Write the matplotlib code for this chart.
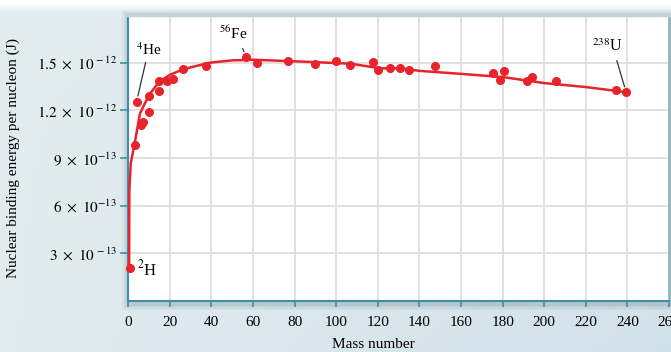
import numpy as np
import matplotlib
matplotlib.use('Agg')
import matplotlib.pyplot as plt
from matplotlib.patches import Rectangle

# measured nuclides (mass number, binding energy per nucleon in J)
mass = [1, 3, 4, 6, 7, 10, 10, 15, 15, 18.5, 21.4, 26.5, 37.4, 56.6, 62.1, 77.0,
        89.8, 100.0, 106.7, 117.6, 120.3, 126.0, 130.5, 135.2, 147.3, 175.2,
        178.9, 180.5, 191.7, 194.1, 205.7, 234.7, 239.4]
energy = [0.205, 0.98, 1.256, 1.11, 1.13, 1.29, 1.19, 1.382, 1.325, 1.382, 1.397,
          1.46, 1.477, 1.536, 1.498, 1.513, 1.494, 1.508, 1.487, 1.506, 1.456,
          1.47, 1.467, 1.456, 1.477, 1.435, 1.393, 1.445, 1.382, 1.41, 1.382,
          1.33, 1.315]
energy = [e * 1e-12 for e in energy]

# smooth trend curve
curve_mass = [0.4, 0.5, 1.2, 2.9, 5.6, 10, 15, 20, 26.5, 39, 50, 60, 82, 107,
              121, 131, 140, 160, 180, 200, 220, 239.4]
curve_energy = [0.205, 0.70, 0.87, 0.98, 1.18, 1.298, 1.382, 1.424, 1.46, 1.50,
                1.515, 1.519, 1.508, 1.494, 1.465, 1.465, 1.449, 1.43, 1.41,
                1.372, 1.347, 1.315]
curve_energy = [e * 1e-12 for e in curve_energy]

y_ticks = [3e-13, 6e-13, 9e-13, 1.2e-12, 1.5e-12]
y_labels = [r'$3\ \times\ 10^{\,-13}$', r'$9\ \times\ 10^{-13}$'.replace('9', '6'),
            r'$9\ \times\ 10^{-13}$',
            r'$1.2\ \times\ 10^{\,-12}$', r'$1.5\ \times\ 10^{\,-12}$']
x_ticks = list(range(0, 261, 20))

plt.rcParams['font.family'] = ['Liberation Serif', 'DejaVu Serif']
plt.rcParams['mathtext.fontset'] = 'stix'

W, H = 671, 352
fig = plt.figure(figsize=(W / 100, H / 100), dpi=100)

# soft blue-grey page background
bg = fig.add_axes([0, 0, 1, 1])
bg.axis('off')
bg.set_zorder(-5)
rows = np.linspace(0, 1, H)[:, None]
cols = np.linspace(0, 1, W)[None, :]
base = np.array([0.885, 0.925, 0.942])
dark = np.array([0.80, 0.87, 0.90])
mix = (rows * cols * 0.8)[..., None]
img = base * (1 - mix) + dark * mix
fade = np.clip((rows * H - 3) / 9, 0, 1)[..., None] * np.ones((1, W, 1))
img = np.ones(3) * (1 - fade) + img * fade
bg.imshow(img, aspect='auto', extent=[0, 1, 0, 1])
bg.set_xlim(0, 1)
bg.set_ylim(0, 1)

left, right, top, bottom = 128.3, 669, 15.1, 301
ax_rect = [left / W, 1 - bottom / H, (right - left) / W, (bottom - top) / H]

# drop shadow behind plot panel
for i, a in enumerate([0.05, 0.05, 0.06, 0.08]):
    pad = (4 - i) * 1.5
    fig.patches.append(Rectangle((ax_rect[0] - pad / W, ax_rect[1] - (pad + 3) / H),
                                 ax_rect[2] + 2 * pad / W, ax_rect[3] + (2 * pad + 2) / H,
                                 transform=fig.transFigure, color='#40606e',
                                 alpha=a, lw=0, zorder=-1))

ax = fig.add_axes(ax_rect)
ax.set_facecolor('white')

teal = '#3f8ea5'
red = '#e8232b'

ax.plot(curve_mass, curve_energy, color=red, lw=1.8, zorder=3, clip_on=False)
ax.plot(mass, energy, 'o', color=red, ms=5.5, zorder=4, clip_on=False)

ax.set_xlim(0, 260)
ax.set_ylim(0, 1.8e-12)
ax.set_xticks(x_ticks)
ax.set_yticks(y_ticks)
ax.set_yticklabels(y_labels)
ax.grid(True, color='#dcdcdc', lw=1.2)
ax.set_axisbelow(True)

ax.tick_params(axis='y', direction='out', length=6, width=1.2, color=teal,
               labelsize=11, pad=2)
ax.tick_params(axis='x', direction='out', length=4.5, width=1.2, color=teal,
               labelsize=11, pad=6)
for s in ['left', 'bottom']:
    ax.spines[s].set_color(teal)
    ax.spines[s].set_linewidth(1.5)
ax.spines['right'].set_color('#8fb3c0')
ax.spines['right'].set_linewidth(1.8)
ax.spines['top'].set_color('#c3d2d8')
ax.spines['top'].set_linewidth(2.5)

ax.set_ylabel('Nuclear binding energy per nucleon (J)', fontsize=11)
ax.yaxis.set_label_coords((20 - left) / (right - left), 0.5)
fig.text(373 / W, 1 - 344 / H, 'Mass number', ha='center', va='center', fontsize=11)

line_kw = dict(arrowstyle='-', color='#333333', lw=0.9, shrinkB=4)
ax.annotate(r'$^{4}$He', xy=(mass[2], energy[2]), xytext=(10.0, 1.58e-12),
            ha='center', va='center', fontsize=11,
            arrowprops=dict(line_kw, relpos=(0.4, 0), shrinkA=1))
ax.annotate(r'$^{56}$Fe', xy=(mass[13], energy[13]), xytext=(50.4, 1.687e-12),
            ha='center', va='center', fontsize=11,
            arrowprops=dict(line_kw, relpos=(0.75, 0), shrinkA=3))
ax.annotate(r'$^{238}$U', xy=(mass[-1], energy[-1]), xytext=(230.4, 1.60e-12),
            ha='center', va='center', fontsize=11.5,
            arrowprops=dict(line_kw, relpos=(0.75, 0), shrinkA=2))
ax.text(8.9, 2.0e-13, r'$^{2}$H', ha='center', va='center', fontsize=12)

fig.savefig('out.png', dpi=100)
